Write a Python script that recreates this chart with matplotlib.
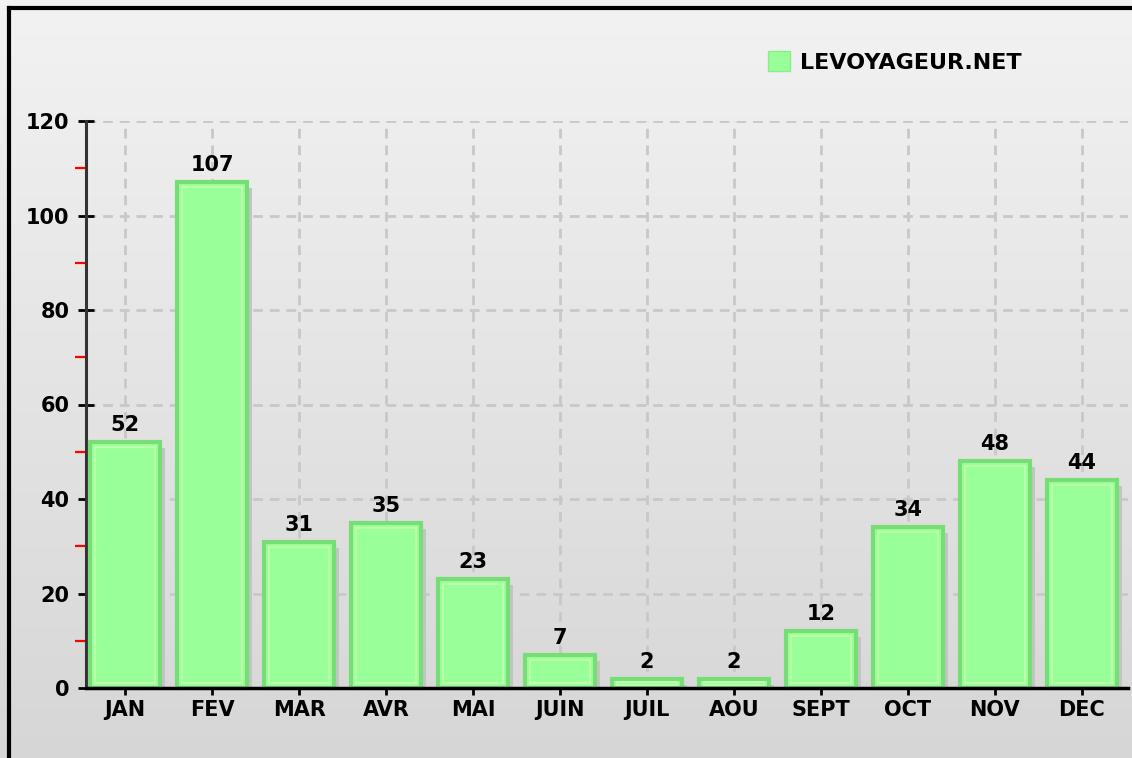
import matplotlib.pyplot as plt
import numpy as np
from matplotlib.lines import Line2D
from matplotlib.patches import Rectangle

mois = ['JAN', 'FEV', 'MAR', 'AVR', 'MAI', 'JUIN', 'JUIL', 'AOU', 'SEPT', 'OCT', 'NOV', 'DEC']
visites = [52, 107, 31, 35, 23, 7, 2, 2, 12, 34, 48, 44]
serie = 'LEVOYAGEUR.NET'
yticks = [0, 20, 40, 60, 80, 100, 120]

plt.rcParams['font.family'] = ['DejaVu Sans']

fig = plt.figure(figsize=(11.32, 7.58), dpi=100)

# fond en degrade
bg = fig.add_axes([0, 0, 1, 1], zorder=-10)
grad = np.linspace(0.95, 0.84, 256).reshape(-1, 1)
bg.imshow(np.dstack([grad, grad, grad]), aspect='auto', extent=[0, 1, 0, 1])
bg.set_axis_off()

# cadre noir (haut et gauche)
fig.add_artist(Line2D([8.5 / 1132, 1], [1 - 7.5 / 758] * 2, color='black', lw=3, transform=fig.transFigure))
fig.add_artist(Line2D([8.5 / 1132] * 2, [0, 1 - 7.5 / 758], color='black', lw=3, transform=fig.transFigure))

ax = fig.add_axes([86 / 1132, 70 / 758, (1128 - 86) / 1132, 567 / 758])
ax.set_facecolor('none')

x = np.arange(len(mois))
w = 0.8
px = 1 / 87.0          # un pixel en unites x
py = 120 / 567.0       # un pixel en unites y

# ombre
ax.bar(x + 5 * px, [max(v - 6 * py, 0) for v in visites], width=w, color='#c4c4c4', zorder=2)
# barres
ax.bar(x, visites, width=w, color='#99ff99', edgecolor='#77dd77', linewidth=3, zorder=3)
# liseré intérieur
for xi, v in zip(x, visites):
    ins = min(5 * py, v / 3)
    ax.add_patch(Rectangle((xi - w / 2 + 5 * px, ins), w - 10 * px, v - 2 * ins,
                           fill=False, edgecolor='#bbffaa', lw=1.5, zorder=4))
    ax.annotate(str(v), (xi, v), xytext=(0, 5), textcoords='offset points',
                ha='center', va='bottom', fontsize=15, fontweight='bold', zorder=5)

ax.set_xlim(-0.45, 11.53)
ax.set_ylim(0, 120)
ax.set_xticks(x)
ax.set_xticklabels(mois)
ax.set_yticks(yticks)
ax.set_yticks(np.arange(10, 120, 20), minor=True)

ax.grid(True, which='major', color='#c8c8c8', lw=2, linestyle=(0, (3.5, 2.5)), zorder=1)
ax.set_axisbelow(True)

for s in ['top', 'right']:
    ax.spines[s].set_visible(False)
ax.spines['left'].set_color('#333333')
ax.spines['left'].set_linewidth(2.2)
ax.spines['bottom'].set_color('black')
ax.spines['bottom'].set_linewidth(2.5)
ax.spines['bottom'].set_zorder(6)

ax.tick_params(axis='y', which='major', direction='inout', length=12, width=2, color='black',
               labelsize=15, pad=6)
ax.tick_params(axis='y', which='minor', direction='out', length=8, width=1.6, color='red')
ax.tick_params(axis='x', which='major', direction='out', length=5, width=2, color='black',
               labelsize=15, pad=4)
for lab in ax.get_xticklabels() + ax.get_yticklabels():
    lab.set_fontweight('bold')

# legende
leg_h = Rectangle((0, 0), 1, 1, facecolor='#99ff99', edgecolor='#88ee88')
fig.legend([leg_h], [serie], loc='center left', bbox_to_anchor=(748 / 1132, 1 - 62 / 758),
           frameon=False, prop={'weight': 'bold', 'size': 16},
           handlelength=1.0, handleheight=1.0, handletextpad=0.45)

fig.savefig('out.png', dpi=100)
